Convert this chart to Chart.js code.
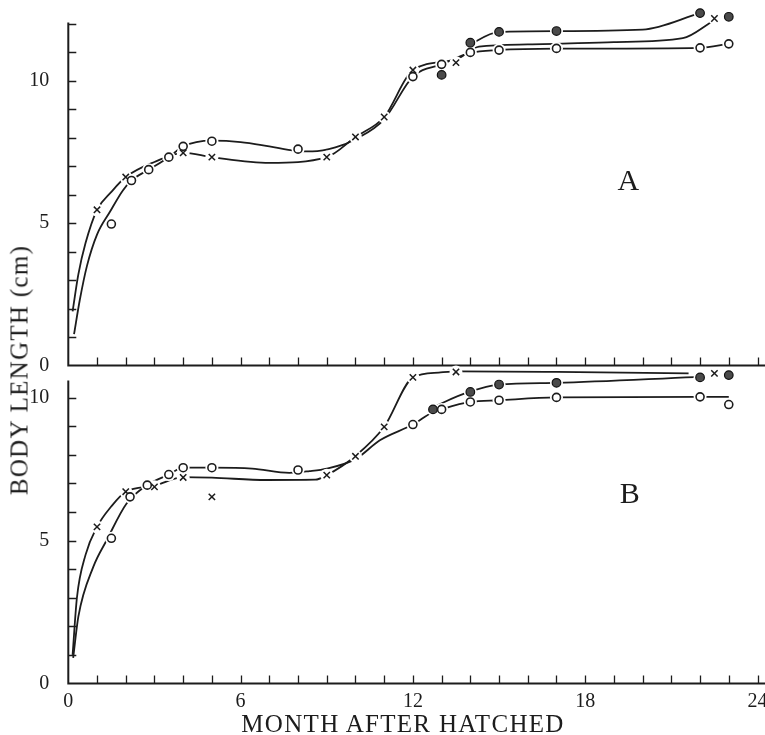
<!DOCTYPE html>
<html>
<head>
<meta charset="utf-8">
<title>Body length after hatching</title>
<script src="https://cdn.jsdelivr.net/npm/chart.js@4.4.1/dist/chart.umd.min.js"></script>
<style>
  html, body { margin: 0; padding: 0; background: #fff; overflow: hidden; }
  #wrap { position: relative; width: 765px; height: 735px; }
  .panel { position: absolute; left: 0; width: 765px; }
  #panelA { top: 0; height: 372px; }
  #panelB { top: 350px; height: 385px; }
  .axis-title {
    position: absolute;
    font-family: 'Liberation Serif', serif;
    font-size: 25px;
    line-height: 1;
    letter-spacing: 1.3px;
    color: #1c1c1c;
    white-space: nowrap;
  }
  #xTitle { left: 403px; top: 723px; transform: translate(-50%, -50%); }
  #yTitle { left: 19px; top: 370px; transform: translate(-50%, -50%) rotate(-90deg); }
</style>
</head>
<body>
<div id="wrap">
  <div class="panel" id="panelA"><canvas id="chartA"></canvas></div>
  <div class="panel" id="panelB"><canvas id="chartB"></canvas></div>
  <div class="axis-title" id="yTitle">BODY LENGTH (cm)</div>
  <div class="axis-title" id="xTitle">MONTH AFTER HATCHED</div>
</div>
<script>
// tick labels
const monthLabels = [0, 6, 12, 18, 24];
const lengthLabels = [0, 5, 10];

// group A, measured points
const aCircleMonths = [1.5, 2.2, 2.8, 3.5, 4, 5, 8, 12, 13, 14, 15, 17, 22, 23];
const aCircleLengths = [4.97, 6.5, 6.88, 7.32, 7.7, 7.88, 7.6, 10.15, 10.58, 11.0, 11.08, 11.14, 11.16, 11.3];
const aCrossMonths = [1, 2, 4, 5, 9, 10, 11, 12, 13.5, 22.5];
const aCrossLengths = [5.47, 6.62, 7.47, 7.32, 7.32, 8.03, 8.73, 10.38, 10.64, 12.19];
const aDotMonths = [13, 14, 15, 17, 22, 23];
const aDotLengths = [10.21, 11.34, 11.72, 11.75, 12.38, 12.25];

// group A, fitted growth curves
const aCircleFitMonths = [0.2, 0.4, 0.65, 1.0, 1.45, 1.9, 2.2, 2.8, 3.5, 4, 5, 6, 7, 7.9, 8.5, 9.3, 10, 11, 12, 13, 14, 15, 17, 22, 23];
const aCircleFitLengths = [1.1, 2.3, 3.5, 4.6, 5.4, 6.15, 6.5, 6.88, 7.32, 7.7, 7.9, 7.85, 7.7, 7.55, 7.52, 7.66, 7.95, 8.65, 10.15, 10.58, 10.98, 11.08, 11.13, 11.16, 11.3];
const aCrossFitMonths = [0.15, 0.35, 0.6, 1, 1.5, 2, 3, 4, 5, 7, 9, 10, 11, 12, 13.5, 14.3, 16, 19, 21.4, 22.4];
const aCrossFitLengths = [1.9, 3.2, 4.3, 5.47, 6.1, 6.62, 7.15, 7.47, 7.32, 7.12, 7.32, 8.03, 8.73, 10.38, 10.75, 11.2, 11.28, 11.36, 11.5, 12.07];
const aDotFitMonths = [13.85, 15, 17, 20, 22];
const aDotFitLengths = [11.2, 11.72, 11.75, 11.8, 12.38];

// group B, measured points
const bCircleMonths = [1.5, 2.15, 2.75, 3.5, 4, 5, 8, 12, 13, 14, 15, 17, 22, 23];
const bCircleLengths = [5.08, 6.53, 6.94, 7.31, 7.55, 7.55, 7.47, 9.06, 9.59, 9.85, 9.91, 10.01, 10.03, 9.76];
const bCrossMonths = [1, 2, 3, 4, 5, 9, 10, 11, 12, 13.5, 22.5];
const bCrossLengths = [5.48, 6.71, 6.88, 7.21, 6.53, 7.29, 7.95, 8.98, 10.71, 10.9, 10.85];
const bDotMonths = [12.7, 14, 15, 17, 22, 23];
const bDotLengths = [9.59, 10.2, 10.46, 10.52, 10.71, 10.79];

// group B, fitted growth curves
const bCircleFitMonths = [0.17, 0.35, 0.87, 1.34, 2.03, 2.75, 3.5, 4, 5, 6.4, 7.7, 8.4, 9, 10, 10.85, 12, 12.7, 13, 14, 15, 17, 22, 23];
const bCircleFitLengths = [0.9, 2.34, 4.08, 5.02, 6.3, 6.94, 7.31, 7.55, 7.55, 7.52, 7.37, 7.43, 7.52, 7.85, 8.51, 9.06, 9.5, 9.6, 9.85, 9.91, 10.01, 10.03, 10.03];
const bCrossFitMonths = [0.15, 0.3, 0.6, 1, 1.5, 2, 3, 4, 5, 6.9, 8.6, 9, 10, 11, 12, 12.9, 13.6, 17, 21.6];
const bCrossFitLengths = [1.0, 3.0, 4.5, 5.48, 6.2, 6.71, 6.92, 7.22, 7.2, 7.12, 7.13, 7.29, 7.96, 8.98, 10.71, 10.88, 10.92, 10.9, 10.85];
const bDotFitMonths = [12.65, 13.95, 15, 17, 21.8];
const bDotFitLengths = [9.65, 10.2, 10.46, 10.52, 10.72];

const INK = '#1c1c1c';
Chart.defaults.font.family = "'Liberation Serif', serif";
Chart.defaults.color = INK;

function pts(xs, ys) {
  return xs.map((x, i) => ({ x: x, y: ys[i] }));
}

function fitLine(xs, ys) {
  return {
    data: pts(xs, ys),
    showLine: true,
    pointRadius: 0,
    borderColor: INK,
    borderWidth: 1.8,
    cubicInterpolationMode: 'monotone',
    clip: false,
    order: 3
  };
}

// white disc under each marker so the curves break around it
function halo(xs, ys) {
  return {
    data: pts(xs, ys),
    pointRadius: 6.5,
    pointBackgroundColor: '#fff',
    pointBorderWidth: 0,
    clip: false,
    order: 2
  };
}

function openCircles(xs, ys) {
  return {
    data: pts(xs, ys),
    pointStyle: 'circle',
    pointRadius: 4,
    pointBackgroundColor: '#fff',
    pointBorderColor: INK,
    pointBorderWidth: 1.6,
    clip: false,
    order: 1
  };
}

function crosses(xs, ys) {
  return {
    data: pts(xs, ys),
    pointStyle: 'crossRot',
    pointRadius: 4.5,
    pointBorderColor: INK,
    pointBorderWidth: 1.5,
    clip: false,
    order: 1
  };
}

function dots(xs, ys) {
  return {
    data: pts(xs, ys),
    pointStyle: 'circle',
    pointRadius: 4.3,
    pointBackgroundColor: '#4a4a4a',
    pointBorderColor: '#111',
    pointBorderWidth: 1.2,
    clip: false,
    order: 1
  };
}

// axis lines with inward tick marks, plus the panel letter
const axisDecor = {
  id: 'axisDecor',
  afterDraw(chart, args, opts) {
    const { ctx, chartArea: area, scales: { x, y } } = chart;
    const top = y.getPixelForValue(opts.axisTop);
    ctx.save();
    ctx.strokeStyle = INK;
    ctx.lineWidth = 2;
    ctx.beginPath();
    ctx.moveTo(area.left, top - 1.5);
    ctx.lineTo(area.left, area.bottom);
    ctx.lineTo(chart.width, area.bottom);
    ctx.stroke();

    ctx.lineWidth = 1.3;
    ctx.beginPath();
    x.ticks.forEach(t => {
      if (t.value === 0) return;
      const px = Math.round(x.getPixelForValue(t.value)) + 0.5;
      ctx.moveTo(px, area.bottom);
      ctx.lineTo(px, area.bottom - 8);
    });
    y.ticks.forEach(t => {
      if (t.value === 0 || t.value > opts.axisTop) return;
      const py = Math.round(y.getPixelForValue(t.value)) + 0.5;
      ctx.moveTo(area.left, py);
      ctx.lineTo(area.left + 8, py);
    });
    ctx.stroke();

    ctx.fillStyle = INK;
    ctx.font = "30px 'Liberation Serif', serif";
    ctx.textAlign = 'center';
    ctx.textBaseline = 'middle';
    ctx.fillText(opts.letter, x.getPixelForValue(opts.at[0]), y.getPixelForValue(opts.at[1]));
    ctx.restore();
  }
};

function makePanel(canvasId, cfg) {
  const showMonths = cfg.showMonths;
  return new Chart(document.getElementById(canvasId), {
    type: 'scatter',
    data: { datasets: cfg.datasets },
    plugins: [axisDecor],
    options: {
      responsive: true,
      maintainAspectRatio: false,
      animation: false,
      events: [],
      layout: { padding: cfg.padding },
      plugins: {
        legend: { display: false },
        tooltip: { enabled: false },
        axisDecor: { letter: cfg.letter, at: cfg.letterAt, axisTop: cfg.axisTop }
      },
      scales: {
        x: {
          type: 'linear',
          min: 0,
          max: 24,
          grid: { display: false },
          border: { display: false },
          ticks: {
            display: showMonths,
            stepSize: 1,
            padding: -2,
            font: { size: 20 },
            color: INK,
            maxRotation: 0,
            autoSkip: false,
            callback: v => monthLabels.includes(v) ? String(v) : ''
          },
          afterFit(scale) {
            scale.height = cfg.xAxisHeight;
            scale.paddingLeft = 0;
            scale.paddingRight = 0;
          }
        },
        y: {
          type: 'linear',
          min: 0,
          max: cfg.yMax,
          grid: { display: false },
          border: { display: false },
          ticks: {
            stepSize: 1,
            includeBounds: false,
            padding: 11,
            font: { size: 20 },
            color: INK,
            autoSkip: false,
            callback: v => lengthLabels.includes(v) ? String(v) : ''
          },
          afterFit(scale) {
            scale.width = 68.3;
            scale.paddingTop = 0;
            scale.paddingBottom = 0;
          }
        }
      }
    }
  });
}

// upper panel: plot box reaches above the drawn axis so the last marks stay visible
makePanel('chartA', {
  letter: 'A',
  letterAt: [19.5, 6.45],
  yMax: 12.6,
  axisTop: 12,
  showMonths: false,
  xAxisHeight: 0,
  padding: { top: 6.85, right: 7.5, bottom: 5, left: 0 },
  datasets: [
    fitLine(aCircleFitMonths, aCircleFitLengths),
    fitLine(aCrossFitMonths, aCrossFitLengths),
    fitLine(aDotFitMonths, aDotFitLengths),
    halo(aCircleMonths, aCircleLengths),
    halo(aCrossMonths, aCrossLengths),
    halo(aDotMonths, aDotLengths),
    openCircles(aCircleMonths, aCircleLengths),
    crosses(aCrossMonths, aCrossLengths),
    dots(aDotMonths, aDotLengths)
  ]
});

makePanel('chartB', {
  letter: 'B',
  letterAt: [19.55, 6.6],
  yMax: 11.1,
  axisTop: 10.55,
  showMonths: true,
  xAxisHeight: 51.5,
  padding: { top: 16.25, right: 7.5, bottom: 0, left: 0 },
  datasets: [
    fitLine(bCircleFitMonths, bCircleFitLengths),
    fitLine(bCrossFitMonths, bCrossFitLengths),
    fitLine(bDotFitMonths, bDotFitLengths),
    halo(bCircleMonths, bCircleLengths),
    halo(bCrossMonths, bCrossLengths),
    halo(bDotMonths, bDotLengths),
    openCircles(bCircleMonths, bCircleLengths),
    crosses(bCrossMonths, bCrossLengths),
    dots(bDotMonths, bDotLengths)
  ]
});
</script>
</body>
</html>
